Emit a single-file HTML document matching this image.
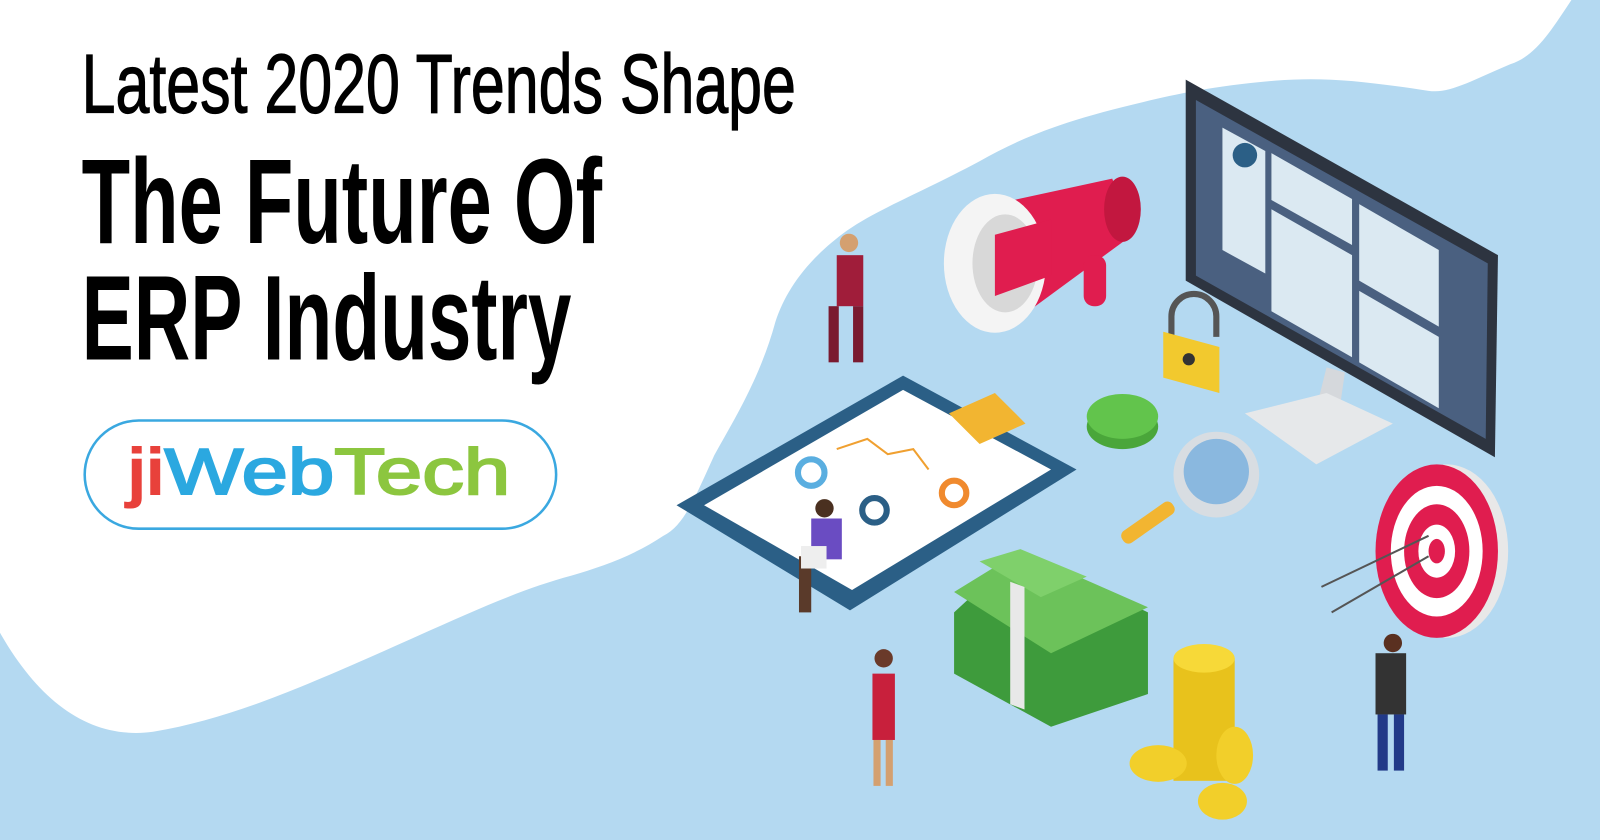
<!DOCTYPE html>
<html><head><meta charset="utf-8"><style>html,body{margin:0;padding:0;background:#fff}svg{display:block}</style></head>
<body>
<svg width="1600" height="840" viewBox="0 0 1568 823" preserveAspectRatio="none" xmlns="http://www.w3.org/2000/svg">
<rect width="1568" height="823" fill="#fff"/>
<path d="M1540,0 C1520,30 1505,55 1480,63 C1440,80 1420,92 1400,89 C1340,80 1300,75 1250,79 C1180,85 1140,95 1100,105 C1040,120 1000,135 960,158 C900,190 860,205 830,226 C790,255 770,285 760,315 C745,370 720,410 700,446 C680,490 670,515 650,525 C620,545 590,555 560,564 C500,580 440,610 360,645 C280,680 220,705 150,717 C90,725 40,690 0,620 L0,823 L1568,823 L1568,0 Z" fill="#b4d9f1"/>
<g font-family="'Liberation Sans Narrow','Liberation Sans',sans-serif" fill="#000">
<text x="80" y="110" font-size="82" textLength="700" lengthAdjust="spacingAndGlyphs" stroke="#000" stroke-width="1.2">Latest 2020 Trends Shape</text>
<text x="80" y="238" font-size="118" font-weight="bold" textLength="510" lengthAdjust="spacingAndGlyphs">The Future Of</text>
<text x="80" y="352" font-size="118" font-weight="bold" textLength="480" lengthAdjust="spacingAndGlyphs">ERP Industry</text>
</g>
<rect x="83" y="412" width="462" height="106" rx="53" fill="#fff" stroke="#3aa8e0" stroke-width="2.5"/>
<text x="125" y="484" font-family="'Liberation Sans',sans-serif" font-size="64" textLength="375" lengthAdjust="spacingAndGlyphs" stroke-width="2"><tspan fill="#e8413b" stroke="#e8413b">ji</tspan><tspan fill="#2ba8e0" stroke="#2ba8e0">Web</tspan><tspan fill="#8cc63f" stroke="#8cc63f">Tech</tspan></text>
<!-- monitor -->
<polygon points="1300,360 1285,420 1310,420 1318,365" fill="#d5d8dc"/>
<polygon points="1220,405 1300,385 1365,415 1290,455" fill="#e6e8ea"/>
<polygon points="1162,78 1468,250 1465,448 1162,275" fill="#2d3440"/>
<polygon points="1172,98 1458,258 1456,430 1172,270" fill="#4a6080"/>
<polygon points="1198,125 1240,148 1240,268 1198,245" fill="#dbe9f2"/>
<polygon points="1246,150 1325,195 1325,240 1246,196" fill="#dbe9f2"/>
<polygon points="1246,205 1325,250 1325,350 1246,305" fill="#dbe9f2"/>
<polygon points="1332,200 1410,245 1410,320 1332,275" fill="#dbe9f2"/>
<polygon points="1332,285 1410,330 1410,400 1332,355" fill="#dbe9f2"/>
<circle cx="1220" cy="152" r="12" fill="#2b5f86"/>
<!-- megaphone -->
<polygon points="975,200 1090,175 1110,230 990,318" fill="#e01d4f"/>
<ellipse cx="1100" cy="205" rx="18" ry="32" fill="#c2173f"/>
<ellipse cx="975" cy="258" rx="50" ry="68" fill="#f4f4f4"/>
<ellipse cx="985" cy="258" rx="32" ry="48" fill="#d8d8d8"/>
<polygon points="975,230 1030,215 1030,270 975,290" fill="#e01d4f"/>
<rect x="1062" y="250" width="22" height="50" rx="10" fill="#e01d4f"/>
<!-- lock -->
<path d="M1148,330 v-20 a22,22 0 0 1 44,0 v20" fill="none" stroke="#555" stroke-width="6"/>
<polygon points="1140,325 1195,340 1195,385 1140,370" fill="#f2c92e"/>
<circle cx="1165" cy="352" r="6" fill="#333"/>
<!-- green button -->
<ellipse cx="1100" cy="418" rx="35" ry="22" fill="#4aa63a"/>
<ellipse cx="1100" cy="408" rx="35" ry="22" fill="#62c44c"/>
<!-- clipboard -->
<polygon points="663,495 885,368 1055,460 833,598" fill="#2b5f86"/>
<polygon points="690,495 885,382 1030,460 835,578" fill="#fff"/>
<polygon points="930,405 975,385 1005,415 960,435" fill="#f2b531"/>
<circle cx="795" cy="463" r="13" fill="none" stroke="#5aaee0" stroke-width="6"/>
<circle cx="935" cy="483" r="12" fill="none" stroke="#f08a2e" stroke-width="6"/>
<circle cx="857" cy="500" r="12" fill="none" stroke="#2b5f86" stroke-width="6"/>
<polyline points="820,440 850,430 870,445 895,440 910,460" fill="none" stroke="#f0a030" stroke-width="2"/>
<!-- magnifier -->
<rect x="1095" y="505" width="60" height="14" rx="6" fill="#f2b531" transform="rotate(-35 1125 512)"/>
<circle cx="1192" cy="465" r="42" fill="#d8dde2"/>
<circle cx="1192" cy="462" r="32" fill="#8ab8df"/>
<!-- target -->
<ellipse cx="1418" cy="540" rx="60" ry="85" fill="#e8e8e8"/>
<ellipse cx="1408" cy="540" rx="60" ry="85" fill="#e01d4f"/>
<ellipse cx="1408" cy="540" rx="45" ry="64" fill="#fff"/>
<ellipse cx="1408" cy="540" rx="32" ry="46" fill="#e01d4f"/>
<ellipse cx="1408" cy="540" rx="18" ry="26" fill="#fff"/>
<ellipse cx="1408" cy="540" rx="8" ry="12" fill="#e01d4f"/>
<line x1="1295" y1="575" x2="1400" y2="525" stroke="#555" stroke-width="2"/>
<line x1="1305" y1="600" x2="1400" y2="545" stroke="#555" stroke-width="2"/>
<!-- money -->
<polygon points="935,600 1000,540 1125,600 1125,680 1030,712 935,660" fill="#3e9b3c"/>
<polygon points="935,580 1000,540 1125,595 1030,640" fill="#6cc25a"/>
<polygon points="960,550 1000,538 1065,565 1020,585" fill="#7fd06b"/>
<rect x="990" y="570" width="14" height="120" fill="#e8e8e8" transform="skewY(20)" transform-origin="990 570"/>
<!-- coins -->
<rect x="1150" y="645" width="60" height="120" fill="#e8c21c"/>
<ellipse cx="1180" cy="645" rx="30" ry="14" fill="#f7d938"/>
<ellipse cx="1135" cy="748" rx="28" ry="18" fill="#f2cf2a"/>
<ellipse cx="1210" cy="740" rx="18" ry="28" fill="#f2cf2a"/>
<ellipse cx="1198" cy="785" rx="24" ry="18" fill="#f2cf2a"/>
<!-- people -->
<g>
<circle cx="832" cy="238" r="9" fill="#d4a070"/><rect x="820" y="250" width="26" height="50" fill="#a01d3a"/><rect x="812" y="300" width="10" height="55" fill="#7a1a30"/><rect x="836" y="300" width="10" height="55" fill="#7a1a30"/>
<circle cx="808" cy="498" r="9" fill="#4a3020"/><rect x="795" y="508" width="30" height="40" fill="#6a4cc2"/><rect x="783" y="545" width="12" height="55" fill="#5a3a2a"/><rect x="785" y="535" width="25" height="22" fill="#eee"/>
<circle cx="866" cy="645" r="9" fill="#6a3a2a"/><rect x="855" y="660" width="22" height="65" fill="#c8203c"/><rect x="856" y="725" width="7" height="45" fill="#d4a070"/><rect x="868" y="725" width="7" height="45" fill="#d4a070"/>
<circle cx="1365" cy="630" r="9" fill="#5a3020"/><rect x="1348" y="640" width="30" height="60" fill="#333"/><rect x="1350" y="700" width="10" height="55" fill="#223a88"/><rect x="1366" y="700" width="10" height="55" fill="#223a88"/>
</g>
</svg>
</body></html>
